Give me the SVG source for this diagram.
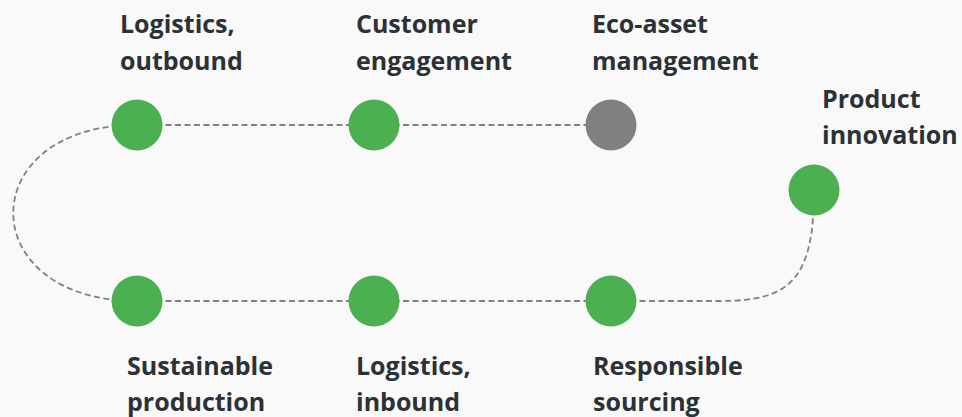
<svg xmlns="http://www.w3.org/2000/svg" width="962" height="417" viewBox="0 0 962 417">
  <style>
    .bg { fill: #f9f9f9; }
    .link { fill: none; stroke: #808080; stroke-width: 1.8; stroke-dasharray: 6 3.5; }
    .dot { fill: #4caf50; }
    .dot.idle { fill: #808080; }
    .label { font-family: "Open Sans", "Noto Sans", "Liberation Sans", sans-serif; font-weight: 700; font-size: 25px; fill: #2c3136; }
  </style>
  <rect class="bg" x="0" y="0" width="962" height="417"/>

  <g id="connectors">
    <path class="link" d="M137,125 L611,125"/>
    <path class="link" d="M137,125 C-28,125 -28,301 137,301"/>
    <path class="link" d="M137,301 L611,301"/>
    <path class="link" d="M611,301 L720,301 C790,301 814,280 814,190"/>
  </g>

  <g id="logistics-outbound">
    <circle class="dot" cx="137" cy="125" r="25.5"/>
    <text class="label" x="120" y="33">Logistics,<tspan x="120" y="69.5">outbound</tspan></text>
  </g>

  <g id="customer-engagement">
    <circle class="dot" cx="374" cy="125" r="25.5"/>
    <text class="label" x="356" y="33">Customer<tspan x="356" y="69.5">engagement</tspan></text>
  </g>

  <g id="eco-asset-management">
    <circle class="dot idle" cx="611" cy="125" r="25.5"/>
    <text class="label" x="592" y="33">Eco-asset<tspan x="592" y="69.5">management</tspan></text>
  </g>

  <g id="product-innovation">
    <circle class="dot" cx="814" cy="190" r="25.5"/>
    <text class="label" x="822" y="108">Product<tspan x="822" y="144">innovation</tspan></text>
  </g>

  <g id="sustainable-production">
    <circle class="dot" cx="137" cy="301" r="25.5"/>
    <text class="label" x="127" y="375">Sustainable<tspan x="127" y="411">production</tspan></text>
  </g>

  <g id="logistics-inbound">
    <circle class="dot" cx="374" cy="301" r="25.5"/>
    <text class="label" x="356" y="375">Logistics,<tspan x="356" y="411">inbound</tspan></text>
  </g>

  <g id="responsible-sourcing">
    <circle class="dot" cx="611" cy="301" r="25.5"/>
    <text class="label" x="593" y="375">Responsible<tspan x="593" y="411">sourcing</tspan></text>
  </g>
</svg>
